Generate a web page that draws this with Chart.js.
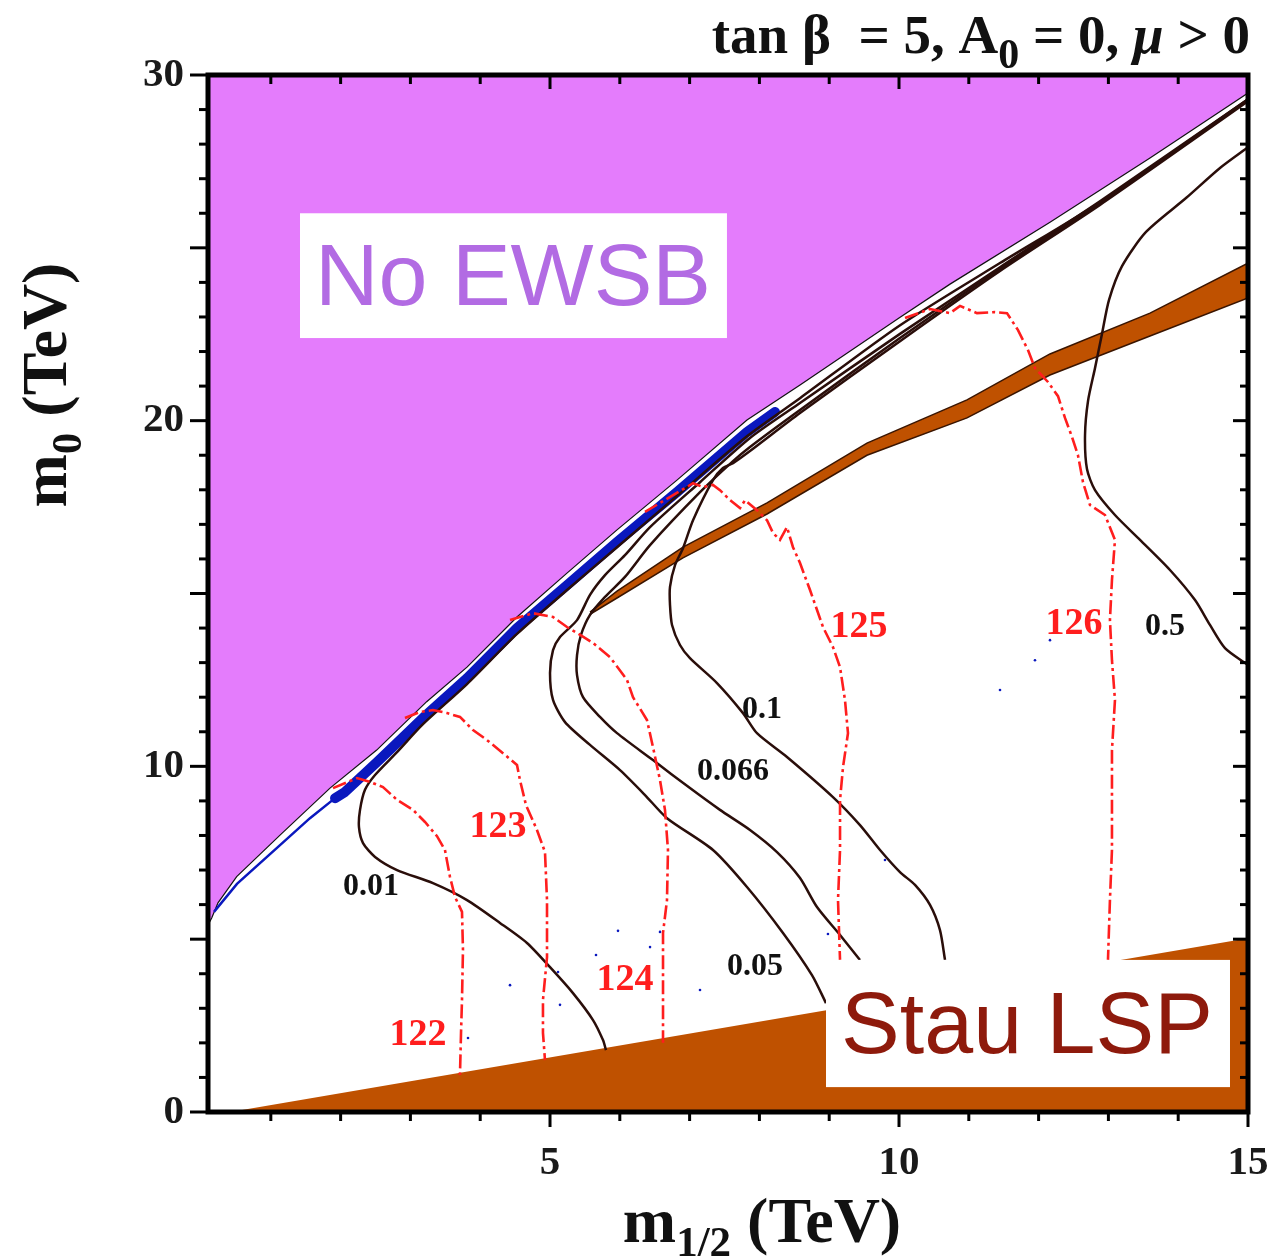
<!DOCTYPE html>
<html>
<head>
<meta charset="utf-8">
<script src="https://cdn.jsdelivr.net/npm/chart.js@4.4.1/dist/chart.umd.min.js"></script>
<style>
html,body{margin:0;padding:0;background:#fff;}
#wrap{width:1274px;height:1258px;position:relative;}
</style>
</head>
<body>
<div id="wrap"><canvas id="c" width="1274" height="1258"></canvas></div>
<script>
// ---------- axis ranges and tick labels (TeV) ----------
const xMin = 0.1, xMax = 15, yMin = 0, yMax = 30;
const xTickLabels = [5, 10, 15];
const yTickLabels = [0, 10, 20, 30];

// ---------- regions ----------
const noEwsbEdge = [[0.1,5.41],[0.153,5.61],[0.243,6.05],[0.511,6.81],[1.132,8.01],[1.848,9.37],[2.517,10.47],[3.233,11.87],[3.811,12.87],[4.527,14.32],[5.243,15.59],[5.96,16.84],[6.819,18.28],[7.822,20.02],[8.582,21.03],[10.0,22.97],[10.731,23.95],[12.163,25.74],[13.596,27.6],[15.0,29.48]];
const stauEdge = [[0.42,0],[15,5.03]];
const blueThin = [[0.186,5.79],[0.515,6.6],[1.132,7.72],[1.561,8.5],[1.92,9.08]];
const blueBand = [[1.92,9.08],[2.063,9.26],[2.521,10.12],[2.851,10.76],[3.238,11.51],[3.811,12.55],[4.527,14.0],[5.243,15.24],[5.96,16.49],[6.819,17.93],[7.822,19.67],[8.223,20.25]];
const orangeStrip = [[5.573,14.46],[5.96,15.07],[6.905,16.34],[8.109,17.62],[9.541,19.35],[10.974,20.6],[12.163,21.93],[13.596,23.11],[15.0,24.56],[15.0,23.55],[13.596,22.45],[12.163,21.32],[10.974,20.08],[9.541,19.0],[8.109,17.3],[6.905,16.03],[5.96,14.87],[5.573,14.4]];

// ---------- black contours ----------
const contour001 = [[5.802,1.79],[5.759,2.08],[5.616,2.66],[5.329,3.44],[5.0,4.19],[4.67,4.89],[4.283,5.47],[3.811,6.13],[3.323,6.62],[2.808,7.0],[2.493,7.38],[2.321,7.78],[2.263,8.24],[2.278,8.74],[2.349,9.32],[2.493,9.75],[2.808,10.41],[3.18,11.22],[3.811,12.38],[4.527,13.83],[5.243,15.1],[5.96,16.34],[6.819,17.82],[7.822,19.55],[8.581,20.65],[10.0,22.74],[11.447,24.56],[12.879,26.32],[15.0,29.3]];
const contour005 = [[8.954,3.15],[8.753,3.96],[8.338,5.18],[7.822,6.51],[7.335,7.58],[6.676,8.5],[6.361,9.17],[6.003,9.89],[5.573,10.62],[5.215,11.28],[5.043,11.92],[5.0,12.7],[5.043,13.36],[5.143,13.74],[5.387,14.23],[5.573,14.96],[5.788,15.53],[6.074,16.11],[6.433,16.92],[7.149,18.22],[7.865,19.5],[8.581,20.51],[10.014,22.51],[11.447,24.44],[12.879,26.35],[15.0,29.3]];
const contour0066 = [[9.441,4.4],[9.155,5.12],[8.825,5.93],[8.582,6.77],[8.252,7.52],[7.865,8.16],[7.435,8.74],[7.005,9.37],[6.475,10.18],[5.96,10.96],[5.716,11.43],[5.473,12.0],[5.387,12.64],[5.387,13.22],[5.444,13.8],[5.573,14.38],[5.788,14.9],[6.074,15.48],[6.433,16.4],[7.149,17.93],[7.622,18.83],[7.865,19.24],[8.581,20.31],[10.014,22.39],[11.447,24.39],[12.879,26.29],[15.0,29.27]];
const contour01 = [[10.659,4.4],[10.587,5.26],[10.444,5.99],[10.229,6.57],[10.014,6.94],[9.728,7.58],[9.441,8.3],[9.054,9.11],[8.395,10.27],[7.965,10.96],[7.765,11.54],[7.392,12.41],[7.005,13.13],[6.862,13.51],[6.748,14.09],[6.719,14.67],[6.719,15.19],[6.791,15.82],[6.905,16.31],[7.049,17.12],[7.335,18.28],[7.478,18.63],[7.622,18.77],[7.865,19.12],[8.581,20.22],[10.014,22.3],[11.447,24.33],[12.879,26.24],[15.0,29.24]];
const contour05 = [[15.0,12.93],[14.67,13.42],[14.455,14.09],[14.241,14.81],[13.882,15.68],[13.453,16.55],[13.094,17.27],[12.808,17.99],[12.693,18.6],[12.665,19.58],[12.708,20.57],[12.808,21.52],[12.908,22.51],[13.008,23.49],[13.195,24.47],[13.539,25.46],[14.112,26.44],[14.599,27.31],[15.0,27.91]];

// ---------- Higgs mass contours (GeV), red dashed ----------
const higgs122 = [[1.891,9.37],[2.235,9.66],[2.421,9.55],[2.607,9.4],[2.808,9.03],[3.037,8.74],[3.209,8.39],[3.381,7.98],[3.495,7.58],[3.567,6.8],[3.639,6.22],[3.739,5.79],[3.753,4.69],[3.739,3.24],[3.725,2.29],[3.71,1.07]];
const higgs123 = [[2.922,11.4],[3.137,11.57],[3.323,11.63],[3.524,11.54],[3.71,11.43],[3.897,11.05],[4.097,10.76],[4.326,10.38],[4.527,10.04],[4.57,9.6],[4.656,8.88],[4.813,8.16],[4.928,7.52],[4.957,6.13],[4.957,4.48],[4.899,3.24],[4.899,2.29],[4.928,1.5]];
const higgs124 = [[4.427,14.23],[4.756,14.43],[5.043,14.32],[5.243,14.03],[5.387,13.86],[5.616,13.57],[5.859,13.16],[6.103,12.5],[6.189,12.0],[6.389,11.34],[6.475,10.56],[6.576,9.6],[6.647,8.74],[6.69,7.58],[6.676,6.13],[6.619,5.18],[6.619,3.24],[6.619,2.0]];
const higgs125 = [[6.361,17.36],[7.049,18.19],[7.192,18.08],[7.335,18.14],[7.435,17.99],[7.579,17.7],[7.722,17.47],[7.794,17.7],[7.966,17.41],[8.109,17.12],[8.195,16.75],[8.295,16.55],[8.395,16.92],[8.481,16.34],[8.582,15.88],[8.725,15.1],[8.911,14.03],[9.054,13.45],[9.155,12.87],[9.226,11.92],[9.269,10.96],[9.198,9.98],[9.155,9.03],[9.155,7.58],[9.126,6.13],[9.155,4.4]];
const higgs126 = [[10.086,22.97],[10.444,23.23],[10.731,23.11],[10.874,23.32],[11.117,23.11],[11.375,23.14],[11.547,23.11],[11.705,22.62],[11.848,22.04],[11.948,21.52],[12.134,21.12],[12.278,20.71],[12.378,20.08],[12.478,19.53],[12.564,19.0],[12.636,18.22],[12.736,17.56],[12.951,17.27],[13.094,16.55],[13.051,15.39],[13.022,14.23],[13.051,13.07],[13.094,11.92],[13.051,10.47],[13.051,9.03],[13.051,7.58],[13.022,6.13],[12.994,4.4]];

// scattered blue points
const blueDots = [[5.974,5.24],[6.433,4.77],[5.659,4.54],[5.115,4.05],[4.427,3.67],[5.143,3.1],[3.825,2.14],[6.576,5.21],[7.149,3.53],[8.982,5.15],[9.799,7.29],[11.447,12.21],[11.948,13.07],[12.163,13.65]];

// ---------- labels ----------
const higgsLabels = ['122','123','124','125','126'];
const higgsLabelPos = [[3.109,2.29],[4.255,8.3],[6.074,3.88],[9.427,14.09],[12.507,14.17]];
const ratioLabels = ['0.01','0.05','0.066','0.1','0.5'];
const ratioLabelPos = [[2.435,6.57],[7.937,4.25],[7.622,9.89],[8.037,11.69],[13.811,14.09]];
const regionLabels = ['No EWSB','Stau LSP'];
const regionLabelPos = [[4.47,24.15],[11.833,2.52]];
const regionBoxes = [[1.418,7.535,26.0,22.39],[8.954,14.742,4.40,0.72]];

// ---------- styles ----------
const SERIF = '"Liberation Serif","Times New Roman",serif';
const SANS = '"Liberation Sans",Arial,sans-serif';
const PURPLE = '#E47CFC', ORANGE = '#BF5100', BLUE = '#0A18BE', RED = '#FF1E1E', DARK = '#2A0E0A';

const pts = a => a.map(([x,y]) => ({x, y}));
function ds(data, o) {
  return Object.assign({data: pts(data), showLine: true, pointRadius: 0, fill: false, tension: 0, borderWidth: 2}, o);
}

const datasets = [
  ...[higgs122, higgs123, higgs124, higgs125, higgs126].map(h => ds(h, {borderColor: RED, borderWidth: 2.6, borderDash: [14,4,3,4]})),
  ...[contour001, contour005, contour0066, contour01, contour05].map(c => ds(c, {borderColor: DARK, borderWidth: 2.5, tension: 0.25})),
  {data: pts(blueDots), showLine: false, pointRadius: 1.3, pointBackgroundColor: BLUE, pointBorderWidth: 0},
  ds(blueBand, {borderColor: BLUE, borderWidth: 10, borderCapStyle: 'round', borderJoinStyle: 'round'}),
  ds(blueThin, {borderColor: BLUE, borderWidth: 2.5}),
  ds(orangeStrip, {borderColor: '#3a1500', borderWidth: 1.5, backgroundColor: ORANGE, fill: 'shape'}),
  ds(noEwsbEdge, {borderColor: '#111', borderWidth: 1.2, backgroundColor: PURPLE, fill: 'end'}),
  ds(stauEdge, {borderColor: ORANGE, borderWidth: 0, backgroundColor: ORANGE, fill: 'start'})
];

const deco = {
  id: 'deco',
  afterDatasetsDraw(chart) {
    const {ctx, scales: {x, y}} = chart;
    ctx.save();
    ctx.fillStyle = '#fff';
    regionBoxes.forEach(b => {
      const x0 = x.getPixelForValue(b[0]), x1 = x.getPixelForValue(b[1]);
      const y0 = y.getPixelForValue(b[2]), y1 = y.getPixelForValue(b[3]);
      ctx.fillRect(x0, y0, x1 - x0, y1 - y0);
    });
    ctx.textAlign = 'center';
    ctx.textBaseline = 'middle';
    ctx.font = '88px ' + SANS;
    const regionColors = ['#B26BE3', '#8E1A0C'];
    regionLabels.forEach((t, i) => {
      ctx.fillStyle = regionColors[i];
      ctx.fillText(t, x.getPixelForValue(regionLabelPos[i][0]), y.getPixelForValue(regionLabelPos[i][1]) + 4);
    });
    ctx.font = 'bold 38px ' + SERIF;
    ctx.fillStyle = RED;
    higgsLabels.forEach((t, i) => ctx.fillText(t, x.getPixelForValue(higgsLabelPos[i][0]), y.getPixelForValue(higgsLabelPos[i][1]) + 2));
    ctx.font = 'bold 32px ' + SERIF;
    ctx.fillStyle = '#111';
    ratioLabels.forEach((t, i) => ctx.fillText(t, x.getPixelForValue(ratioLabelPos[i][0]), y.getPixelForValue(ratioLabelPos[i][1]) + 2));
    ctx.restore();
  },
  afterDraw(chart) {
    const {ctx, chartArea: a, scales: {x, y}} = chart;
    ctx.save();
    ctx.strokeStyle = '#000';
    ctx.lineWidth = 5;
    ctx.strokeRect(a.left, a.top, a.right - a.left, a.bottom - a.top);
    ctx.lineWidth = 3;
    const seg = (x1, y1, x2, y2) => { ctx.beginPath(); ctx.moveTo(x1, y1); ctx.lineTo(x2, y2); ctx.stroke(); };
    for (let v = Math.ceil(xMin); v <= xMax; v++) {
      const px = x.getPixelForValue(v), major = v % 5 === 0;
      seg(px, a.bottom + 2, px, a.bottom + 2 + (major ? 13 : 7));
      if (v < xMax) seg(px, a.top + 2, px, a.top + 2 + (major ? 12 : 7));
    }
    for (let v = yMin; v <= yMax; v++) {
      const py = y.getPixelForValue(v), major = v % 5 === 0;
      seg(a.left - 2, py, a.left - 2 - (major ? 16 : 7), py);
      if (v > yMin && v < yMax) seg(a.right - 2, py, a.right - 2 - (major ? 13 : 6), py);
    }
    ctx.fillStyle = '#111';
    ctx.textBaseline = 'alphabetic';
    ctx.textAlign = 'left';
    const big = 'bold 64px ' + SERIF, small = 'bold 43px ' + SERIF;
    ctx.font = big; const wm = ctx.measureText('m').width, wt = ctx.measureText('(TeV)').width;
    ctx.font = small; const ws = ctx.measureText('1/2').width;
    const gap = 16, tot = wm + ws + gap + wt;
    let cx = 762 - tot / 2;
    ctx.font = big; ctx.fillText('m', cx, 1242); cx += wm;
    ctx.font = small; ctx.fillText('1/2', cx, 1256); cx += ws + gap;
    ctx.font = big; ctx.fillText('(TeV)', cx, 1242);
    ctx.save();
    ctx.translate(66, 385);
    ctx.rotate(-Math.PI / 2);
    ctx.font = small; const w0 = ctx.measureText('0').width;
    const tot2 = wm + w0 + gap + wt;
    let cy = -tot2 / 2;
    ctx.font = big; ctx.fillText('m', cy, 0); cy += wm;
    ctx.font = small; ctx.fillText('0', cy, 15); cy += w0 + gap;
    ctx.font = big; ctx.fillText('(TeV)', cy, 0);
    ctx.restore();
    const pieces = [
      {t: 'tan \u03B2  = 5, A', f: 'bold 55px ' + SERIF, dy: 0},
      {t: '0', f: 'bold 42px ' + SERIF, dy: 15},
      {t: ' = 0, ', f: 'bold 55px ' + SERIF, dy: 0},
      {t: '\u03BC', f: 'italic bold 55px ' + SERIF, dy: 0},
      {t: ' > 0', f: 'bold 55px ' + SERIF, dy: 0}
    ];
    let total = 0;
    pieces.forEach(p => { ctx.font = p.f; p.w = ctx.measureText(p.t).width; total += p.w; });
    let tx = 1250 - total;
    pieces.forEach(p => { ctx.font = p.f; ctx.fillText(p.t, tx, 53 + p.dy); tx += p.w; });
    ctx.restore();
  }
};

new Chart(document.getElementById('c'), {
  type: 'scatter',
  data: {datasets},
  options: {
    responsive: false,
    animation: false,
    devicePixelRatio: 1,
    layout: {padding: {left: 0, top: 75, right: 26, bottom: 0}},
    plugins: {legend: {display: false}, tooltip: {enabled: false}, title: {display: false}},
    scales: {
      x: {
        type: 'linear', position: 'bottom', min: xMin, max: xMax,
        grid: {display: false, drawTicks: false}, border: {display: false},
        afterBuildTicks: s => { s.ticks = xTickLabels.map(v => ({value: v})); },
        afterFit: s => { s.height = 146; s.paddingLeft = 0; s.paddingRight = 0; },
        ticks: {font: {family: SERIF, weight: 'bold', size: 41}, color: '#1a1a1a', padding: 27, maxRotation: 0, autoSkip: false}
      },
      y: {
        type: 'linear', position: 'left', min: yMin, max: yMax,
        grid: {display: false, drawTicks: false}, border: {display: false},
        afterBuildTicks: s => { s.ticks = yTickLabels.map(v => ({value: v})); },
        afterFit: s => { s.width = 208; s.paddingTop = 0; s.paddingBottom = 0; },
        ticks: {font: {family: SERIF, weight: 'bold', size: 41}, color: '#1a1a1a', padding: 24, autoSkip: false}
      }
    }
  },
  plugins: [deco]
});
</script>
</body>
</html>
